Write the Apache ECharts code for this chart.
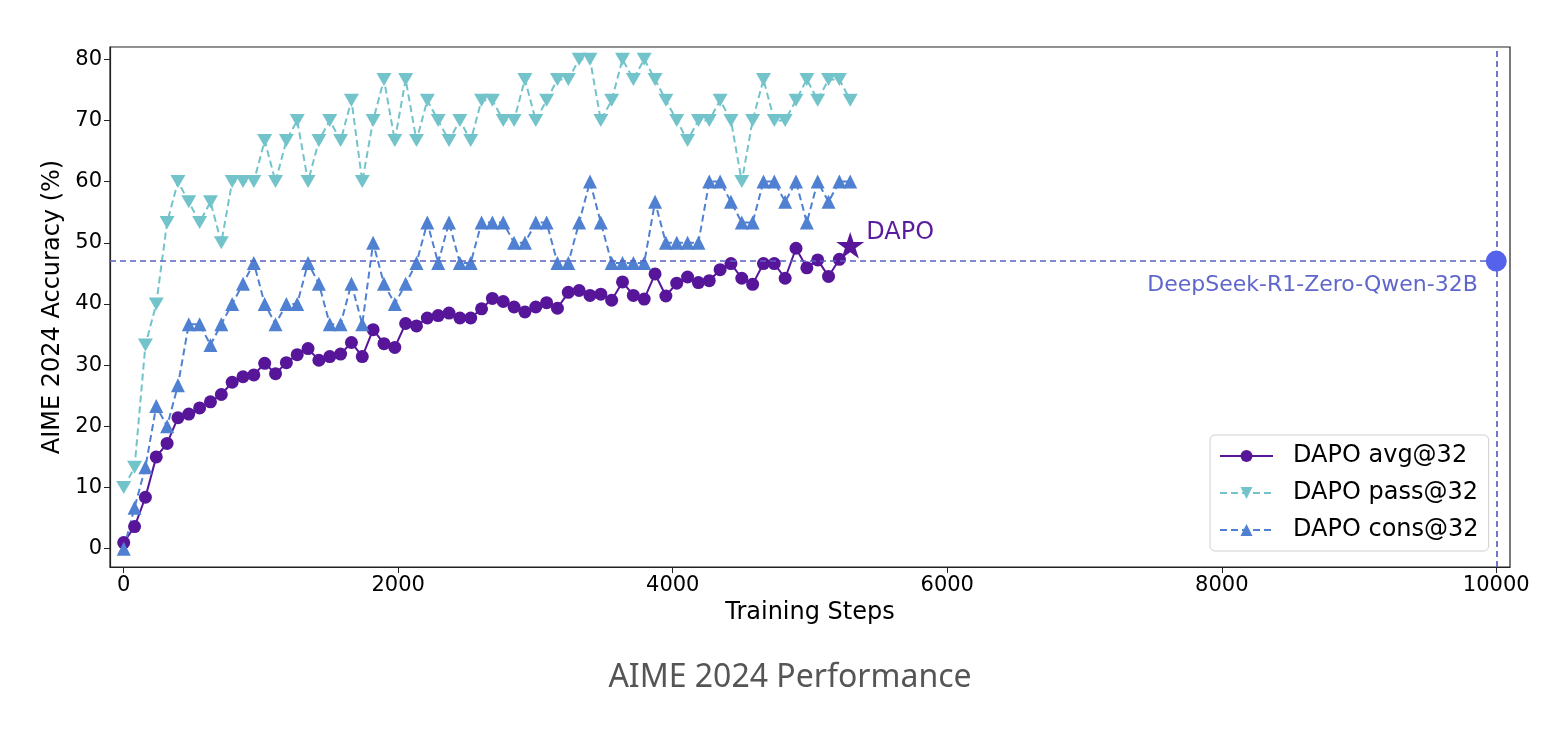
<!DOCTYPE html>
<html><head><meta charset="utf-8">
<script src="https://cdn.jsdelivr.net/npm/echarts@6/dist/echarts.min.js"></script>
<style>html,body{margin:0;padding:0;background:#fff}#c{width:1556px;height:735px}</style>
</head><body><div id="c"></div>
<script>
const steps = [0,79,158,237,316,395,474,553,632,711,790,869,948,1027,1106,1185,1264,1343,1422,1501,1580,1659,1738,1817,1896,1975,2054,2133,2212,2291,2370,2449,2528,2607,2686,2765,2844,2923,3002,3081,3160,3239,3318,3397,3476,3555,3634,3713,3792,3871,3950,4029,4108,4187,4266,4345,4424,4503,4582,4661,4740,4819,4898,4977,5056,5135,5214,5293];
const avg32 = [1.0,3.6,8.4,15.0,17.2,21.4,22.0,23.0,24.0,25.2,27.2,28.1,28.4,30.3,28.6,30.4,31.7,32.7,30.8,31.4,31.8,33.7,31.4,35.8,33.5,32.9,36.8,36.4,37.7,38.1,38.5,37.7,37.7,39.2,40.9,40.4,39.5,38.7,39.5,40.2,39.3,41.9,42.2,41.4,41.6,40.6,43.6,41.4,40.8,44.9,41.3,43.4,44.4,43.5,43.8,45.6,46.6,44.2,43.2,46.6,46.6,44.2,49.1,45.9,47.2,44.5,47.3];
const pass32 = [10,13.3,33.3,40,53.3,60,56.7,53.3,56.7,50,60,60,60,66.7,60,66.7,70,60,66.7,70,66.7,73.3,60,70,76.7,66.7,76.7,66.7,73.3,70,66.7,70,66.7,73.3,73.3,70,70,76.7,70,73.3,76.7,76.7,80,80,70,73.3,80,76.7,80,76.7,73.3,70,66.7,70,70,73.3,70,60,70,76.7,70,70,73.3,76.7,73.3,76.7,76.7,73.3];
const cons32 = [0,6.7,13.3,23.3,20,26.7,36.7,36.7,33.3,36.7,40,43.3,46.7,40,36.7,40,40,46.7,43.3,36.7,36.7,43.3,36.7,50,43.3,40,43.3,46.7,53.3,46.7,53.3,46.7,46.7,53.3,53.3,53.3,50,50,53.3,53.3,46.7,46.7,53.3,60,53.3,46.7,46.7,46.7,46.7,56.7,50,50,50,50,60,60,56.7,53.3,53.3,60,60,56.7,60,53.3,60,56.7,60,60];
const dapoFinal = 49.6;
const deepseekStep = 10000;
const deepseekScore = 47;
const xTicks = [0,2000,4000,6000,8000,10000];
const yTicks = [0,10,20,30,40,50,60,70,80];
const seriesNames = ['DAPO avg@32','DAPO pass@32','DAPO cons@32'];
const deepseekName = 'DeepSeek-R1-Zero-Qwen-32B';
const caption = 'AIME 2024 Performance';

const FONT = 'DejaVu Sans';
const STAR = 'path://M50,0L61.2,34.5L97.6,34.5L68.2,55.9L79.4,90.5L50,69.1L20.6,90.5L31.8,55.9L2.4,34.5L38.8,34.5Z';
const DOWN = 'path://M0,0L20,0L10,17.3Z';
const pairs = (vals) => vals.map((v, i) => [steps[i], v]);

const chart = echarts.init(document.getElementById('c'));
chart.setOption({
  animation: false,
  backgroundColor: '#fff',
  grid: {left: 110, right: 46, top: 47, bottom: 168, show: true, borderColor: '#222', borderWidth: 1.2, backgroundColor: 'transparent'},
  xAxis: {
    type: 'value', min: -100, max: 10100,
    name: 'Training Steps', nameLocation: 'middle', nameGap: 34,
    nameTextStyle: {fontFamily: FONT, fontSize: 24, color: '#000'},
    axisLine: {show: true, onZero: false, lineStyle: {color: '#222', width: 1.2}},
    axisTick: {show: true, length: 6, customValues: xTicks, lineStyle: {color: '#222'}},
    axisLabel: {customValues: xTicks, formatter: (v) => String(v), fontFamily: FONT, fontSize: 21, color: '#000', margin: 8},
    splitLine: {show: false}
  },
  yAxis: {
    type: 'value', min: -3, max: 82,
    name: 'AIME 2024 Accuracy (%)', nameLocation: 'middle', nameGap: 45,
    nameTextStyle: {fontFamily: FONT, fontSize: 24, color: '#000'},
    axisLine: {show: true, onZero: false, lineStyle: {color: '#222', width: 1.2}},
    axisTick: {show: true, length: 6, customValues: yTicks, lineStyle: {color: '#222'}},
    axisLabel: {customValues: yTicks, formatter: (v) => String(v), fontFamily: FONT, fontSize: 21, color: '#000', margin: 8},
    splitLine: {show: false}
  },
  legend: {
    orient: 'vertical', left: 1210, top: 435,
    itemWidth: 53, itemHeight: 15, itemGap: 11,
    padding: [8, 10, 8, 9],
    backgroundColor: 'rgba(255,255,255,0.8)', borderColor: '#d0d0d0', borderWidth: 1, borderRadius: 5,
    textStyle: {fontFamily: FONT, fontSize: 24, color: '#000', lineHeight: 26, padding: [0, 0, 0, 15]},
    data: seriesNames
  },
  graphic: [{
    type: 'text', x: 790, y: 678,
    style: {text: caption, fontFamily: 'Noto Sans', fontSize: 32, fill: '#555', align: 'center', verticalAlign: 'middle'}
  }],
  series: [
    {
      name: 'ref', type: 'scatter', data: [[deepseekStep, deepseekScore]],
      symbol: 'circle', symbolSize: 21, itemStyle: {color: '#5563ec', opacity: 1}, z: 5,
      label: {show: true, formatter: deepseekName, position: 'left', distance: 8, offset: [0, 24],
              fontFamily: FONT, fontSize: 22, color: '#5f66cc'},
      markLine: {silent: true, symbol: 'none', label: {show: false},
                 lineStyle: {color: '#5a60c4', type: [6, 4], width: 1.7, opacity: 1},
                 data: [{yAxis: deepseekScore}, {xAxis: deepseekStep}]}
    },
    {
      name: seriesNames[0], type: 'line', data: pairs(avg32),
      symbol: 'circle', symbolSize: 13, color: '#57169a',
      itemStyle: {color: '#57169a'}, lineStyle: {color: '#57169a', width: 2}, z: 3
    },
    {
      name: seriesNames[1], type: 'line', data: pairs(pass32),
      symbol: DOWN, symbolSize: 15, symbolKeepAspect: true, color: '#72c4ca',
      itemStyle: {color: '#72c4ca'}, lineStyle: {color: '#72c4ca', width: 2, type: [7, 4]}, z: 3
    },
    {
      name: seriesNames[2], type: 'line', data: pairs(cons32),
      symbol: 'triangle', symbolSize: 14, color: '#4f80d1',
      itemStyle: {color: '#4f80d1'}, lineStyle: {color: '#4f80d1', width: 2, type: [7, 4]}, z: 3
    },
    {
      name: 'final', type: 'scatter', data: [[steps[steps.length - 1], dapoFinal]],
      symbol: STAR, symbolSize: 28, symbolKeepAspect: true, itemStyle: {color: '#57169a', opacity: 1}, z: 4,
      label: {show: true, formatter: 'DAPO', position: 'right', distance: 2, offset: [0, -12],
              fontFamily: FONT, fontSize: 24, color: '#5a1c9e'}
    }
  ]
});
</script></body></html>
